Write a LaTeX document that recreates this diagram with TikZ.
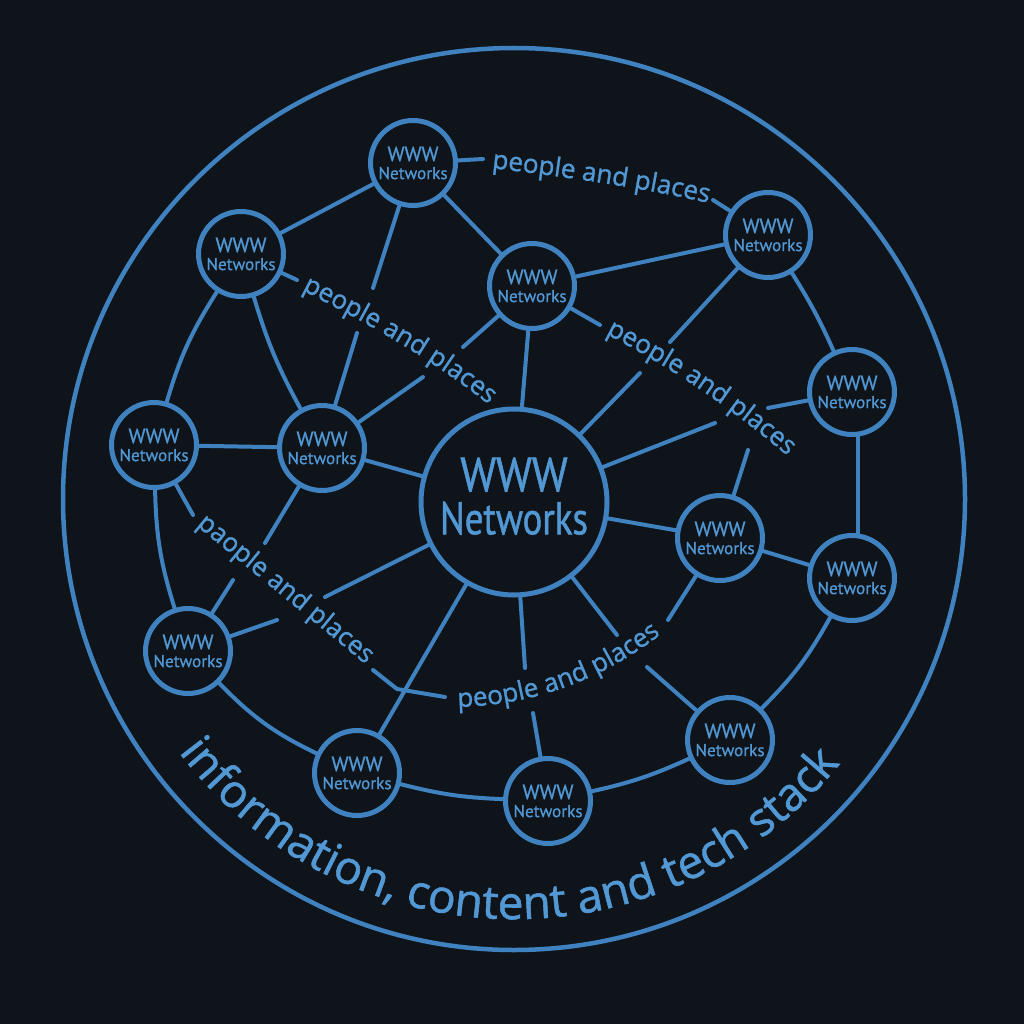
\documentclass[tikz,border=0pt]{standalone}
\usepackage{fontspec}
\setmainfont{Open Sans}
\newfontfamily\labfont[FakeBold=1.2]{Open Sans}
\newfontfamily\nodefont[FakeBold=0.8]{PT Sans}
\newfontfamily\midnodefont[FakeStretch=0.9,FakeBold=1]{PT Sans}
\newfontfamily\bignodefont[FakeStretch=0.8,FakeBold=1]{PT Sans}
\usetikzlibrary{decorations.text}
\definecolor{bg}{RGB}{14,20,26}
\definecolor{wb}{RGB}{64,130,192}
\definecolor{wt}{RGB}{82,152,212}
\newcommand\plabfont{\labfont\fontsize{26}{26}\selectfont}
\newcommand\outfont{\labfont\fontsize{46}{46}\selectfont}
\newcommand\wwwtext{{\fontsize{20.5}{18}\selectfont WWW}\\Networks}
\tikzset{
  net/.style={circle, draw=wb, line width=5pt, fill=bg, minimum size=85pt,
    inner sep=0pt, text=wt, align=center,
    font=\nodefont\fontsize{17.2}{18}\selectfont},
  hub/.style={circle, draw=wb, line width=5pt, fill=bg, minimum size=186pt,
    inner sep=0pt, text=wt, align=center, text depth=12pt,
    font=\bignodefont\fontsize{46}{43}\selectfont},
  link/.style={draw=wb, line width=4pt, line cap=round, line join=round},
  plabel/.style={decorate, decoration={text along path, text align=center,
    text color=wt, text={|\plabfont|#1}}},
  outlabel/.style={decorate, decoration={text along path, text align=center,
    text color=wt, text={|\outfont|#1}}}
}
\begin{document}
\begin{tikzpicture}[x=1pt,y=1pt]
\useasboundingbox (0,0) rectangle (1024,-1024);
\fill[bg] (0,0) rectangle (1024,-1024);
\coordinate (oc) at (514,-499);
\draw[wb, line width=4.5pt] (oc) circle[radius=451pt];

% nodes
\node[hub] (C) at (514,-502) {{\midnodefont\fontsize{48}{43}\selectfont WWW}\\Networks};
\node[net] (T1) at (413,-163) {\wwwtext};
\node[net] (UL) at (241,-254) {\wwwtext};
\node[net] (L) at (154,-445) {\wwwtext};
\node[net] (ML) at (322,-448) {\wwwtext};
\node[net] (UM) at (532,-286) {\wwwtext};
\node[net] (UR) at (768,-235) {\wwwtext};
\node[net] (R1) at (852,-392) {\wwwtext};
\node[net] (MR) at (720,-538) {\wwwtext};
\node[net] (R2) at (852,-578) {\wwwtext};
\node[net] (LR) at (730,-740) {\wwwtext};
\node[net] (B) at (548,-801) {\wwwtext};
\node[net] (LLM) at (357,-773) {\wwwtext};
\node[net] (LL) at (188,-651) {\wwwtext};

% break points of interrupted connectors
\coordinate (a1) at (373,-288); \coordinate (a2) at (357,-333);
\coordinate (b1) at (423,-377); \coordinate (b2) at (463,-347);
\coordinate (c1) at (265,-543); \coordinate (c2) at (233,-580);
\coordinate (d1) at (277,-620); \coordinate (d2) at (325,-597);
\coordinate (e1) at (670,-342); \coordinate (e2) at (640,-373);
\coordinate (f1) at (715,-423); \coordinate (f2) at (768,-408);
\coordinate (g1) at (748,-450);
\coordinate (h1) at (525,-668); \coordinate (h2) at (533,-713);
\coordinate (i1) at (617,-635); \coordinate (i2) at (647,-667);
\coordinate (t1) at (483,-159); \coordinate (t2) at (713,-200);
\coordinate (u1) at (297,-280);
\coordinate (m1) at (600,-325);
\coordinate (l1) at (193,-515); \coordinate (l2) at (373,-670);
\coordinate (l3) at (397,-689); \coordinate (l4) at (445,-697);
\coordinate (bq) at (668,-620);

% full connectors
\draw[link] (T1) -- (UL);
\draw[link] (T1) -- (UM);
\draw[link] (UL) to[bend right=8] (L);
\draw[link] (UL) to[bend right=6] (ML);
\draw[link] (L) -- (ML);
\draw[link] (ML) -- (C);
\draw[link] (UM) -- (C);
\draw[link] (UM) -- (UR);
\draw[link] (UR) to[bend left=4] (R1);
\draw[link] ([xshift=6pt]R1.south) -- ([xshift=6pt]R2.north);
\draw[link] (MR) -- (C);
\draw[link] (MR) -- (R2);
\draw[link] (LR) to[bend right=8] (R2);
\draw[link] (B) to[bend right=6] (LR);
\draw[link] (LLM) to[bend right=6] (B);
\draw[link] (LL) to[bend right=10] (LLM);
\draw[link] (L) to[bend right=8] (LL);
\draw[link] (LLM) -- (C);
% interrupted connectors
\draw[link] (T1) -- (a1); \draw[link] (a2) -- (ML);
\draw[link] (ML) -- (b1); \draw[link] (b2) -- (UM);
\draw[link] (ML) -- (c1); \draw[link] (c2) -- (LL);
\draw[link] (LL) -- (d1); \draw[link] (d2) -- (C);
\draw[link] (UR) -- (e1); \draw[link] (e2) -- (C);
\draw[link] (C) -- (f1); \draw[link] (f2) -- (R1);
\draw[link] (MR) -- (g1);
\draw[link] (C) -- (h1); \draw[link] (h2) -- (B);
\draw[link] (C) -- (i1); \draw[link] (i2) -- (LR);
% label connectors
\draw[link] (T1) -- (t1); \draw[link] (t2) -- (UR);
\draw[link] (UL) -- (u1);
\draw[link] (UM) -- (m1);
\draw[link] (L) -- (l1); \draw[link] (l2) -- (l3) -- (l4);
\draw[link] (bq) -- (MR);

% curved labels
\path[plabel={people and places}] (482,-167) .. controls (560,-176) and (640,-187) .. (718,-205);
\path[plabel={people and places}] (294,-286) .. controls (360,-320) and (420,-350) .. (496,-410);
\path[plabel={people and places}] (596,-329) .. controls (662,-362) and (722,-400) .. (796,-463);
\path[plabel={paople and places}] (187,-518) -- (375,-672);
\path[plabel={people and places}] (446,-707) .. controls (530,-708) and (605,-680) .. (670,-627);
\path[outlabel={information, content and tech stack}] ([shift={(204:420)}]oc) arc[start angle=204, end angle=334, radius=420pt];
\end{tikzpicture}
\end{document}
